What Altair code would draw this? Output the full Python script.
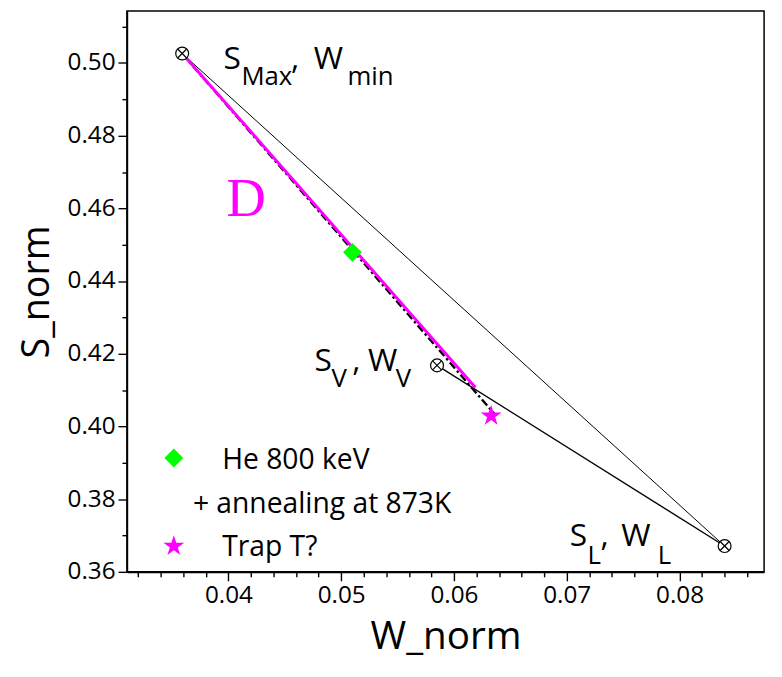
import altair as alt
import pandas as pd

# ---------------- data ----------------
# characteristic (S, W) points of the three-state model
ref_labels = ["S_Max, W_min", "S_V, W_V", "S_L, W_L"]
ref_w = [0.0359, 0.0585, 0.0840]
ref_s = [0.5026, 0.4168, 0.3671]

# measured samples
he_w = [0.0510]
he_s = [0.4479]
trap_w = [0.0633]
trap_s = [0.4029]

# line "D" (magenta) and dash-dot line
d_line_w = [0.0359, 0.0619]
d_line_s = [0.5026, 0.4107]
dashdot_w = [0.0359, 0.0636]
dashdot_s = [0.5026, 0.4034]

# axis ticks (major + minor)
x_tick_values = [0.032, 0.034, 0.036, 0.038, 0.040, 0.042, 0.044, 0.046, 0.048,
                 0.050, 0.052, 0.054, 0.056, 0.058, 0.060, 0.062, 0.064, 0.066,
                 0.068, 0.070, 0.072, 0.074, 0.076, 0.078, 0.080, 0.082, 0.084, 0.086]
y_tick_values = [0.36, 0.37, 0.38, 0.39, 0.40, 0.41, 0.42, 0.43, 0.44, 0.45,
                 0.46, 0.47, 0.48, 0.49, 0.50, 0.51]

# annotation layout: anchor (w, s) and pieces (text, dx, dy, fontSize)
annotations = [
    (0.03957, 0.49823, [("S", 0, 0, 32), ("Max", 18, 16, 26), (",", 68, 0, 32),
                        ("W", 91, 0, 32), ("min", 125, 16, 26)]),
    (0.04764, 0.41512, [("S", 0, 0, 32), ("V", 17, 16, 26), (",", 38, 0, 32),
                        ("W", 54, 0, 32), ("V", 82, 16, 26)]),
    (0.07026, 0.36708, [("S", 0, 0, 32), ("L", 18, 18, 26), (",", 31, 0, 32),
                        ("W", 52, 0, 32), ("L", 89, 18, 26)]),
]
d_label = (0.03983, 0.4579, "D")

# legend layout
legend_symbols = [(0.03516, 0.39133, "diamond", "#00FF00"),
                  (0.03516, 0.36708, "star", "#FF00FF")]
legend_texts = [(0.03945, 0.38842, "He 800 keV"),
                (0.03685, 0.37616, "+ annealing at 873K"),
                (0.03945, 0.36436, "Trap T?")]

# ---------------- chart ----------------
FONT = "Open Sans"
STAR = ("M0,-1L0.2245,-0.309L0.951,-0.309L0.3633,0.118L0.588,0.809L0,0.382"
        "L-0.588,0.809L-0.3633,0.118L-0.951,-0.309L-0.2245,-0.309Z")
XMARK = "M-0.7,-0.7L0.7,0.7M-0.7,0.7L0.7,-0.7"
SHAPES = {"diamond": ("diamond", 361), "star": (STAR, 484)}

x_major_test = "abs(datum.value*100 - round(datum.value*100)) < 0.001"
y_major_test = "round(datum.value*100) % 2 == 0"

x_enc = alt.X(
    "w:Q",
    title="W_norm",
    scale=alt.Scale(domain=[0.031, 0.0875], nice=False, zero=False),
    axis=alt.Axis(
        values=x_tick_values,
        labelExpr=f"{x_major_test} ? format(datum.value, '.2f') : ''",
        tickSize={"condition": {"test": x_major_test, "value": 9}, "value": 5},
        labelOverlap=False,
        titlePadding=11,
        titleFontSize=39,
    ),
)
y_enc = alt.Y(
    "s:Q",
    title="S_norm",
    scale=alt.Scale(domain=[0.36, 0.5143], nice=False, zero=False),
    axis=alt.Axis(
        values=y_tick_values,
        labelExpr=f"{y_major_test} ? format(datum.value, '.2f') : ''",
        tickSize={"condition": {"test": y_major_test, "value": 9}, "value": 5},
        labelOverlap=False,
        titlePadding=11,
        titleFontSize=38,
    ),
)

def df(ws, ss):
    return pd.DataFrame({"w": ws, "s": ss})

layers = []

# thin line S_Max -> S_L
layers.append(alt.Chart(df([ref_w[0], ref_w[2]], [ref_s[0], ref_s[2]])).mark_line(
    color="black", strokeWidth=1).encode(x=x_enc, y=y_enc))
# line S_V -> S_L
layers.append(alt.Chart(df([ref_w[1], ref_w[2]], [ref_s[1], ref_s[2]])).mark_line(
    color="black", strokeWidth=1.4).encode(x=x_enc, y=y_enc))
# dash-dot line
layers.append(alt.Chart(df(dashdot_w, dashdot_s)).mark_line(
    color="black", strokeWidth=2.4, strokeDash=[8, 3, 2.5, 3]).encode(x=x_enc, y=y_enc))
# magenta line D
layers.append(alt.Chart(df(d_line_w, d_line_s)).mark_line(
    color="#FF00FF", strokeWidth=3).encode(x=x_enc, y=y_enc))

# reference markers: circle with X
ref_df = pd.DataFrame({"w": ref_w, "s": ref_s, "name": ref_labels})
layers.append(alt.Chart(ref_df).mark_point(
    shape="circle", size=169, filled=False, fill="white", fillOpacity=1,
    stroke="black", strokeWidth=1.2, opacity=1).encode(x=x_enc, y=y_enc))
layers.append(alt.Chart(ref_df).mark_point(
    shape=XMARK, size=169, filled=False,
    stroke="black", strokeWidth=1.2, opacity=1).encode(x=x_enc, y=y_enc))

# samples
layers.append(alt.Chart(df(he_w, he_s)).mark_point(
    shape="diamond", size=361, filled=True, color="#00FF00", opacity=1).encode(x=x_enc, y=y_enc))
layers.append(alt.Chart(df(trap_w, trap_s)).mark_point(
    shape=STAR, size=484, filled=True, color="#FF00FF", opacity=1).encode(x=x_enc, y=y_enc))

# annotations with subscripts
for aw, a_s, pieces in annotations:
    for txt, dx, dy, fs in pieces:
        layers.append(alt.Chart(pd.DataFrame({"w": [aw], "s": [a_s], "t": [txt]})).mark_text(
            align="left", baseline="alphabetic", dx=dx, dy=dy, fontSize=fs,
            font=FONT, color="black").encode(x=x_enc, y=y_enc, text="t:N"))

layers.append(alt.Chart(pd.DataFrame({"w": [d_label[0]], "s": [d_label[1]], "t": [d_label[2]]})).mark_text(
    align="left", baseline="alphabetic", fontSize=55, font="Liberation Serif",
    color="#FF00FF").encode(x=x_enc, y=y_enc, text="t:N"))

# legend
for lw, ls, shp, col in legend_symbols:
    shape, size = SHAPES[shp]
    layers.append(alt.Chart(df([lw], [ls])).mark_point(
        shape=shape, size=size, filled=True, color=col, opacity=1).encode(x=x_enc, y=y_enc))
for lw, ls, txt in legend_texts:
    layers.append(alt.Chart(pd.DataFrame({"w": [lw], "s": [ls], "t": [txt]})).mark_text(
        align="left", baseline="alphabetic", fontSize=28.5, font=FONT,
        color="black").encode(x=x_enc, y=y_enc, text="t:N"))

chart = alt.layer(*layers).properties(
    width=643, height=566,
    autosize=alt.AutoSizeParams(type="none"),
    padding={"left": 120, "top": 0, "right": 10, "bottom": 90},
).configure_view(
    stroke="black", strokeWidth=1.5
).configure_axis(
    grid=False,
    labelFont=FONT, labelFontSize=24.5, labelColor="black", labelPadding=3,
    titleFont=FONT, titleFontWeight="normal", titleColor="black",
    domainColor="black", domainWidth=1.6, tickColor="black", tickWidth=1.4,
)

chart.save("out.html", embed_options={"renderer": "svg", "actions": False})
